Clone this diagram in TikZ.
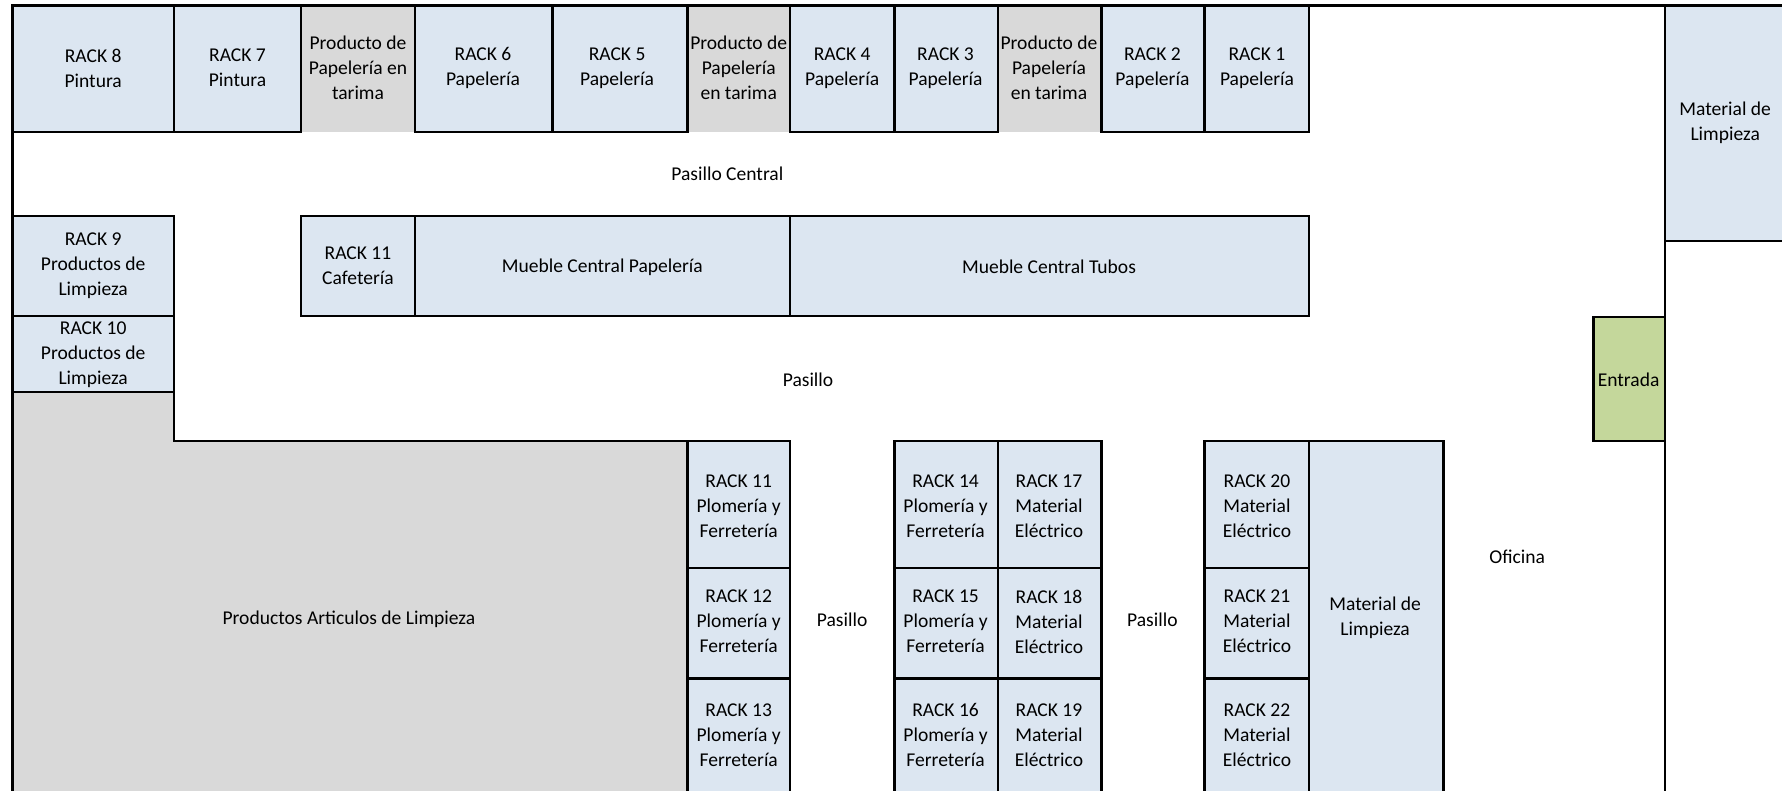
\documentclass[tikz,border=0pt]{standalone}
\usepackage{fontspec}
\setmainfont{Carlito}
\definecolor{rackblue}{HTML}{DCE6F1}
\definecolor{palletgrey}{HTML}{D9D9D9}
\definecolor{doorgreen}{HTML}{C4D79B}
\begin{document}
\begin{tikzpicture}[x=0.5pt,y=-0.5pt,
  wall/.style={line width=1.1pt,line cap=rect,line join=miter},
  lbl/.style={align=center,inner sep=0pt,font=\fontsize{8.6}{11}\selectfont}]
\useasboundingbox (0,0) rectangle (1568,696);
% fills
\fill[rackblue] (11,5) rectangle (265,116) (365,5) rectangle (605,116)
  (695,5) rectangle (878,116) (969,5) rectangle (1152,116);
\fill[palletgrey] (265,5) rectangle (365,116) (605,5) rectangle (695,116)
  (878,5) rectangle (969,116);
\fill[rackblue] (1465,5) rectangle (1568,212);
\fill[rackblue] (11,190) rectangle (153,345);
\fill[rackblue] (265,190) rectangle (1152,278);
\fill[palletgrey] (11,345) -- (153,345) -- (153,388) -- (605,388) -- (605,700) -- (11,700) -- cycle;
\fill[rackblue] (605,388) rectangle (695,700) (787,388) rectangle (969,700)
  (1060,388) rectangle (1270,700);
\fill[doorgreen] (1402,279) rectangle (1465,388);
% walls and borders
\draw[wall] (11,700) -- (11,5) -- (1568,5);
\draw[wall] (1465,5) -- (1465,700);
\draw[wall] (1465,212) -- (1568,212);
\draw[wall] (11,116) -- (265,116) (365,116) -- (605,116) (695,116) -- (878,116) (969,116) -- (1152,116);
\foreach \x in {153,265,365,486,605,695,787,878,969,1060,1152}
  \draw[wall] (\x,5) -- (\x,116);
\draw[wall] (11,190) -- (153,190) -- (153,388) -- (605,388);
\draw[wall] (11,278) -- (153,278) (11,345) -- (153,345);
\draw[wall] (265,190) rectangle (1152,278);
\draw[wall] (365,190) -- (365,278) (695,190) -- (695,278);
\draw[wall] (605,700) -- (605,388) -- (695,388) -- (695,700);
\draw[wall] (605,500) -- (695,500) (605,597) -- (695,597);
\draw[wall] (787,700) -- (787,388) -- (969,388) -- (969,700);
\draw[wall] (878,388) -- (878,700) (787,500) -- (969,500) (787,597) -- (969,597);
\draw[wall] (1060,700) -- (1060,388) -- (1270,388) -- (1270,700);
\draw[wall] (1152,388) -- (1152,700) (1060,500) -- (1152,500) (1060,597) -- (1152,597);
\draw[wall] (1465,279) -- (1402,279) -- (1402,388) -- (1465,388);
% labels, top row
\node[lbl] (r8) at (82,60) {RACK 8\\Pintura};
\node[lbl] (r7) at (209,60) {RACK 7\\Pintura};
\node[lbl] (t1) at (315,60) {Producto de\\Papelería en\\tarima};
\node[lbl] (r6) at (425,60) {RACK 6\\Papelería};
\node[lbl] (r5) at (543,60) {RACK 5\\Papelería};
\node[lbl] (t2) at (650,60) {Producto de\\Papelería\\en tarima};
\node[lbl] (r4) at (741,60) {RACK 4\\Papelería};
\node[lbl] (r3) at (832,60) {RACK 3\\Papelería};
\node[lbl] (t3) at (923,60) {Producto de\\Papelería\\en tarima};
\node[lbl] (r2) at (1014,60) {RACK 2\\Papelería};
\node[lbl] (r1) at (1106,60) {RACK 1\\Papelería};
\node[lbl] (ml1) at (1518,108) {Material de\\Limpieza};
\node[lbl] (pc) at (640,153) {Pasillo Central};
% second row
\node[lbl] (r9) at (82,234) {RACK 9\\Productos de\\Limpieza};
\node[lbl] (r10) at (82,312) {RACK 10\\Productos de\\Limpieza};
\node[lbl] (r11c) at (315,234) {RACK 11\\Cafetería};
\node[lbl] (mcp) at (530,235) {Mueble Central Papelería};
\node[lbl] (mct) at (923,235) {Mueble Central Tubos};
\node[lbl] (pas) at (711,334) {Pasillo};
\node[lbl] (ent) at (1433,334) {Entrada};
% bottom
\node[lbl] (pal) at (307,545) {Productos Articulos de Limpieza};
\node[lbl] (r11) at (650,445) {RACK 11\\Plomería y\\Ferretería};
\node[lbl] (r12) at (650,547) {RACK 12\\Plomería y\\Ferretería};
\node[lbl] (r13) at (650,647) {RACK 13\\Plomería y\\Ferretería};
\node[lbl] (pas1) at (741,545) {Pasillo};
\node[lbl] (r14) at (832,445) {RACK 14\\Plomería y\\Ferretería};
\node[lbl] (r15) at (832,547) {RACK 15\\Plomería y\\Ferretería};
\node[lbl] (r16) at (832,647) {RACK 16\\Plomería y\\Ferretería};
\node[lbl] (r17) at (923,445) {RACK 17\\Material\\Eléctrico};
\node[lbl] (r18) at (923,547) {RACK 18\\Material\\Eléctrico};
\node[lbl] (r19) at (923,647) {RACK 19\\Material\\Eléctrico};
\node[lbl] (pas2) at (1014,545) {Pasillo};
\node[lbl] (r20) at (1106,445) {RACK 20\\Material\\Eléctrico};
\node[lbl] (r21) at (1106,547) {RACK 21\\Material\\Eléctrico};
\node[lbl] (r22) at (1106,647) {RACK 22\\Material\\Eléctrico};
\node[lbl] (ml2) at (1210,544) {Material de\\Limpieza};
\node[lbl] (ofi) at (1335,490) {Oficina};
\end{tikzpicture}
\end{document}
